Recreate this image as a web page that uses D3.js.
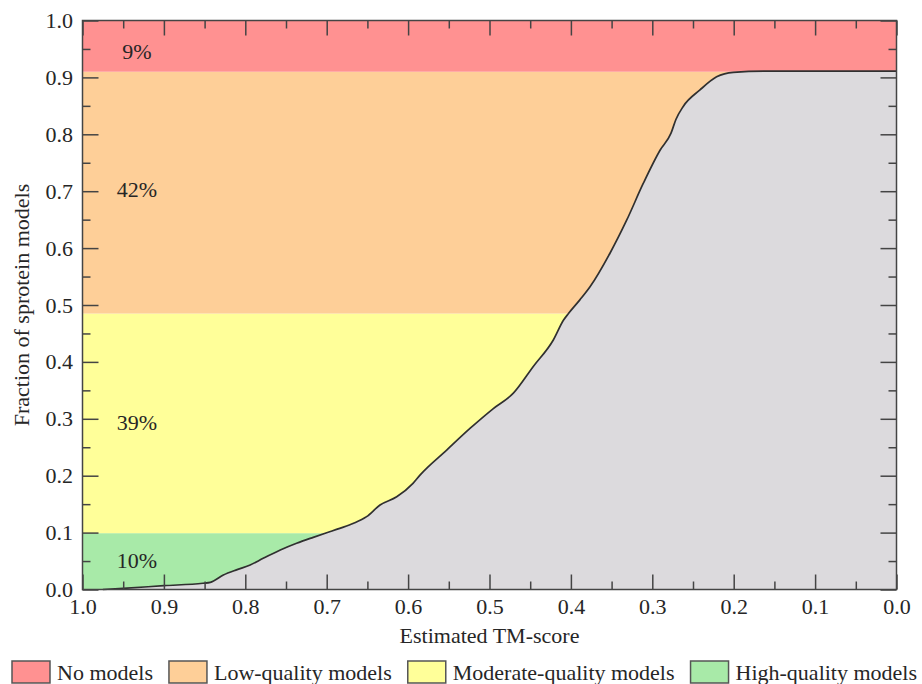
<!DOCTYPE html>
<html>
<head>
<meta charset="utf-8">
<script src="https://cdn.jsdelivr.net/npm/d3@7"></script>
<style>
  body { margin: 0; background: #fff; }
  text { font-family: "Liberation Serif", "Times New Roman", serif; fill: #262626; }
</style>
</head>
<body>
<svg id="chart" width="922" height="684"></svg>
<script>
// Cumulative fraction of models with estimated TM-score >= x
var tmScore = [0.975, 0.95, 0.90, 0.852, 0.843, 0.827, 0.81, 0.794, 0.778, 0.757, 0.737, 0.7165,
  0.70, 0.684, 0.667, 0.651, 0.6345, 0.614, 0.594, 0.5854, 0.5526, 0.524, 0.4953, 0.4707,
  0.4462, 0.4216, 0.409, 0.403, 0.389, 0.3765, 0.352, 0.3315, 0.311, 0.2905, 0.277, 0.271,
  0.262, 0.2414, 0.221, 0.2005, 0.16, 0.10, 0.0];
var fraction = [0, 0.002, 0.0067, 0.011, 0.0126, 0.0255, 0.035, 0.043, 0.0548, 0.0694, 0.0812, 0.0917,
  0.0998, 0.1075, 0.1163, 0.128, 0.1485, 0.163, 0.1866, 0.201, 0.245, 0.283, 0.318, 0.345,
  0.392, 0.4385, 0.4736, 0.485, 0.509, 0.532, 0.591, 0.649, 0.714, 0.772, 0.802, 0.826,
  0.849, 0.878, 0.901, 0.909, 0.911, 0.911, 0.911];

// quality bands, bottom to top
var bandNames = ["High-quality models", "Moderate-quality models", "Low-quality models", "No models"];
var bandLow = [0, 0.099, 0.485, 0.91];
var bandHigh = [0.099, 0.485, 0.91, 1.0];
var bandLabels = ["10%", "39%", "42%", "9%"];
var bandLabelAt = [0.052, 0.293, 0.703, 0.945];
var bandColors = ["#a8eaa8", "#ffff99", "#fecf98", "#ff9191"];

var majorTicks = [0, 0.1, 0.2, 0.3, 0.4, 0.5, 0.6, 0.7, 0.8, 0.9, 1.0];
var minorTicks = [0.05, 0.15, 0.25, 0.35, 0.45, 0.55, 0.65, 0.75, 0.85, 0.95];

var svg = d3.select("#chart");
var margin = {top: 20.5, left: 82.5},
    width = 814,
    height = 569;

var g = svg.append("g").attr("transform", "translate(" + margin.left + "," + margin.top + ")");

var x = d3.scaleLinear().domain([1, 0]).range([0, width]);
var y = d3.scaleLinear().domain([0, 1]).range([height, 0]);

// coloured bands
g.selectAll("rect.band")
  .data(bandNames)
  .enter().append("rect")
  .attr("class", "band")
  .attr("x", 0)
  .attr("width", width)
  .attr("y", function (d, i) { return y(bandHigh[i]); })
  .attr("height", function (d, i) { return y(bandLow[i]) - y(bandHigh[i]); })
  .attr("fill", function (d, i) { return bandColors[i]; });

var points = tmScore.map(function (t, i) { return [t, fraction[i]]; });

// grey area under the curve
var area = d3.area()
  .curve(d3.curveMonotoneX)
  .x(function (d) { return x(d[0]); })
  .y0(y(0))
  .y1(function (d) { return y(d[1]); });

g.append("path")
  .datum(points)
  .attr("fill", "#dcdadd")
  .attr("d", area);

var line = d3.line()
  .curve(d3.curveMonotoneX)
  .x(function (d) { return x(d[0]); })
  .y(function (d) { return y(d[1]); });

g.append("path")
  .datum(points)
  .attr("fill", "none")
  .attr("stroke", "#303030")
  .attr("stroke-width", 1.7)
  .attr("stroke-linejoin", "round")
  .attr("d", line);

// percentage labels
g.selectAll("text.pct")
  .data(bandLabels)
  .enter().append("text")
  .attr("class", "pct")
  .attr("x", 54.5)
  .attr("y", function (d, i) { return y(bandLabelAt[i]); })
  .attr("dy", "0.35em")
  .attr("text-anchor", "middle")
  .style("font-size", "22px")
  .text(function (d) { return d; });

// axes: ticks point inward on all four sides
function styleAxis(sel) {
  sel.select(".domain").remove();
  sel.selectAll("line").attr("stroke", "#444").attr("stroke-width", 1.5);
  sel.selectAll("text").style("font-size", "22px").attr("fill", "#262626");
}

g.append("g")
  .attr("transform", "translate(0," + height + ")")
  .call(d3.axisBottom(x).tickValues(majorTicks).tickSize(-15).tickPadding(9).tickFormat(d3.format(".1f")))
  .call(styleAxis);
g.append("g")
  .attr("transform", "translate(0," + height + ")")
  .call(d3.axisBottom(x).tickValues(minorTicks).tickSize(-8).tickFormat(""))
  .call(styleAxis);
g.append("g")
  .call(d3.axisTop(x).tickValues(majorTicks).tickSize(-15).tickFormat(""))
  .call(styleAxis);
g.append("g")
  .call(d3.axisTop(x).tickValues(minorTicks).tickSize(-8).tickFormat(""))
  .call(styleAxis);

g.append("g")
  .call(d3.axisLeft(y).tickValues(majorTicks).tickSize(-16).tickPadding(9.5).tickFormat(d3.format(".1f")))
  .call(styleAxis);
g.append("g")
  .call(d3.axisLeft(y).tickValues(minorTicks).tickSize(-8).tickFormat(""))
  .call(styleAxis);
g.append("g")
  .attr("transform", "translate(" + width + ",0)")
  .call(d3.axisRight(y).tickValues(majorTicks).tickSize(-16).tickFormat(""))
  .call(styleAxis);
g.append("g")
  .attr("transform", "translate(" + width + ",0)")
  .call(d3.axisRight(y).tickValues(minorTicks).tickSize(-8).tickFormat(""))
  .call(styleAxis);

// frame
g.append("rect")
  .attr("width", width)
  .attr("height", height)
  .attr("fill", "none")
  .attr("stroke", "#444")
  .attr("stroke-width", 1.5);

// axis titles
svg.append("text")
  .attr("x", margin.left + width / 2)
  .attr("y", 643)
  .attr("text-anchor", "middle")
  .style("font-size", "22px")
  .text("Estimated TM-score");

svg.append("text")
  .attr("transform", "translate(28.5," + (margin.top + height / 2) + ") rotate(-90)")
  .attr("text-anchor", "middle")
  .style("font-size", "22px")
  .text("Fraction of sprotein models");

// legend, top band first
var legend = svg.append("g").attr("transform", "translate(12,661)");
var legendX = 0;
[3, 2, 1, 0].forEach(function (i) {
  var item = legend.append("g").attr("transform", "translate(" + legendX + ",0)");
  item.append("rect")
    .attr("width", 38)
    .attr("height", 22)
    .attr("fill", bandColors[i])
    .attr("stroke", "#555")
    .attr("stroke-width", 1.5);
  var label = item.append("text")
    .attr("x", 45)
    .attr("y", 19)
    .style("font-size", "22px")
    .text(bandNames[i]);
  legendX += 45 + label.node().getComputedTextLength() + 16;
});
</script>
</body>
</html>
